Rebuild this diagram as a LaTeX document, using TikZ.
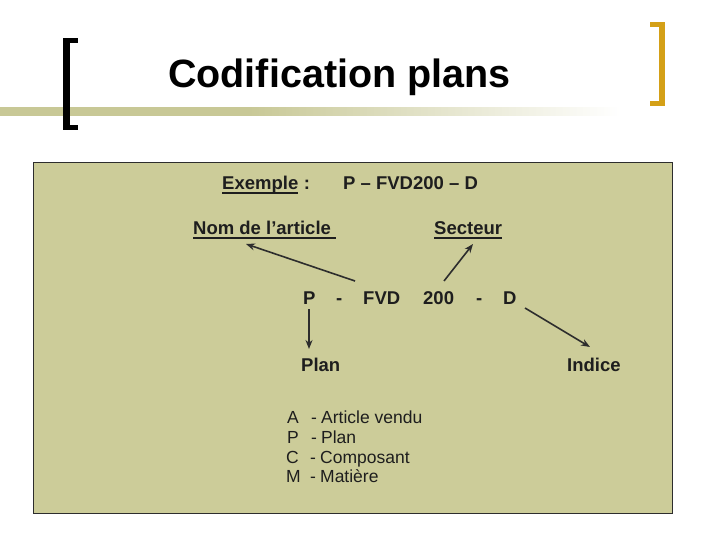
\documentclass[tikz,border=0pt]{standalone}
\usepackage{fontspec}
\setmainfont{Liberation Sans}
\usetikzlibrary{arrows.meta,calc}
\definecolor{boxfill}{RGB}{204,204,153}
\definecolor{lineol}{RGB}{200,200,150}
\definecolor{gold}{RGB}{212,160,23}
\definecolor{ink}{RGB}{30,30,30}
\definecolor{arr}{RGB}{45,45,45}
\pgfdeclarehorizontalshading{fadeline}{100bp}{color(0bp)=(lineol); color(25bp)=(lineol); color(45bp)=(lineol); color(75bp)=(white); color(100bp)=(white)}
\newcommand{\lstrow}[2]{\makebox[24pt][l]{#1}\makebox[10pt][l]{-}#2}
\tikzset{
  txt/.style={inner sep=0pt, anchor=base west, text=ink, font=\fontsize{18.5}{20}\selectfont\bfseries},
  lst/.style={inner sep=0pt, anchor=base west, text=ink, font=\fontsize{17.5}{20}\selectfont},
  ul/.style={draw=ink, line width=1.3pt},
  conn/.style={draw=arr, line width=1.6pt, -{Stealth[length=9pt,width=7pt]}}
}
\begin{document}
\begin{tikzpicture}[x=1pt,y=-1pt]
\useasboundingbox (0,0) rectangle (720,540);
\fill[white] (0,0) rectangle (720,540);
% decorative gradient line
\shade[shading=fadeline] (0,108) rectangle (620,116);
% brackets
\fill[black] (63,38) rectangle (78,43);
\fill[black] (63,38) rectangle (70,130);
\fill[black] (63,125) rectangle (78,130);
\fill[gold] (650,22) rectangle (665,27);
\fill[gold] (659,22) rectangle (665,106);
\fill[gold] (650,101) rectangle (665,106);
% title
\node[inner sep=0pt, anchor=base west, font=\fontsize{39.5}{44}\selectfont\bfseries] (title) at (168,88) {Codification plans};
% box
\draw[draw=arr, line width=1pt, fill=boxfill] (33,163) rectangle (672,513);
% texts
\node[txt] (ex) at (222,190) {Exemple};
\node[txt, anchor=base west] (colon) at (ex.base east) {\ :};
\draw[ul] ([yshift=-3pt]ex.base west) -- ([yshift=-3pt]ex.base east);
\node[txt] (code) at (343,190) {P – FVD200 – D};
\node[txt] (nom) at (193,235) {Nom de l’article};
\draw[ul] ([yshift=-3pt]nom.base west) -- ([xshift=5pt,yshift=-3pt]nom.base east);
\node[txt] (sect) at (434,235) {Secteur};
\draw[ul] ([yshift=-3pt]sect.base west) -- ([yshift=-3pt]sect.base east);
\node[txt] (cP) at (303,304) {P};
\node[txt] (cd1) at (336,304) {-};
\node[txt] (cF) at (363,304) {FVD};
\node[txt] (c2) at (423,304) {200};
\node[txt] (cd2) at (476,304) {-};
\node[txt] (cD) at (503,304) {D};
\node[txt] (plan) at (301,371) {Plan};
\node[txt] (ind) at (567,371) {Indice};
\node[lst] (lA) at (287,423) {\lstrow{A}{Article vendu}};
\node[lst] (lP) at (287,443) {\lstrow{P}{Plan}};
\node[lst] (lC) at (286,463) {\lstrow{C}{Composant}};
\node[lst] (lM) at (286,482) {\lstrow{M}{Matière}};
% connectors
\coordinate (s1) at (355,281);
\coordinate (t1) at (246,244);
\coordinate (s2) at (444,281);
\coordinate (t2) at (473,244);
\coordinate (s3) at (309,309);
\coordinate (t3) at (309,349);
\coordinate (s4) at (525,308);
\coordinate (t4) at (590,347);
\draw[conn] (s1) -- (t1);
\draw[conn] (s2) -- (t2);
\draw[conn] (s3) -- (t3);
\draw[conn] (s4) -- (t4);
\end{tikzpicture}
\end{document}
